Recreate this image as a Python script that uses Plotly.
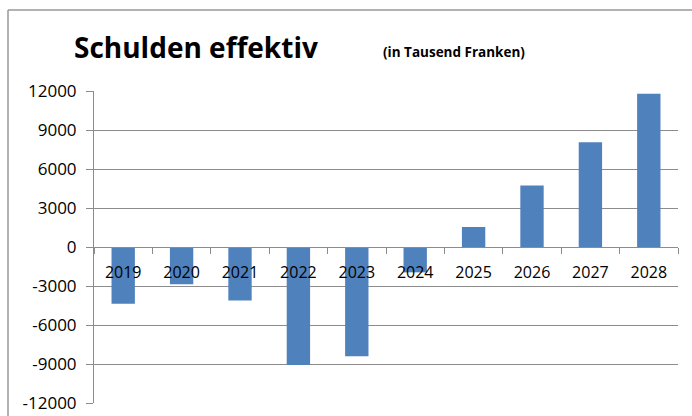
import plotly.graph_objects as go

years = ["2019", "2020", "2021", "2022", "2023", "2024", "2025", "2026", "2027", "2028"]
schulden = [-4360, -2870, -4110, -9080, -8410, -1950, 1540, 4740, 8050, 11790]
y_ticks = [-12000, -9000, -6000, -3000, 0, 3000, 6000, 9000, 12000]
y_labels = [str(v) for v in y_ticks]

W, H = 692, 416
L, R, T, B = 94, 14, 91, 13
pw, ph = W - L - R, H - T - B

fig = go.Figure(go.Bar(x=years, y=schulden, marker_color="#4F81BD",
                       marker_line_width=0))

font = "'Open Sans', sans-serif"
grid = "#8c8c8c"
fig.update_layout(
    width=W, height=H,
    margin=dict(l=L, r=R, t=T, b=B, autoexpand=False),
    paper_bgcolor="white", plot_bgcolor="white",
    bargap=0.6, showlegend=False,
    font=dict(family=font, color="#000000"),
)
fig.update_yaxes(range=[-12000, 12000], tickvals=y_ticks, ticktext=y_labels,
                 tickfont=dict(size=17), showgrid=True, gridcolor=grid,
                 gridwidth=1, zeroline=False, showline=True, linecolor=grid,
                 ticks="outside", ticklen=7, tickcolor=grid, ticklabelstandoff=6,
                 automargin=False)
fig.update_xaxes(type="category", anchor="free", position=0.5,
                 showline=True, linecolor=grid, ticks="outside",
                 tickson="boundaries", ticklen=6, tickcolor=grid,
                 showgrid=False, tickfont=dict(size=16), ticklabelstandoff=11,
                 automargin=False)

# outer border (top & left)
yb = 1 + (T - 10) / ph
xb = (8 - L) / pw
fig.add_shape(type="line", xref="paper", yref="paper",
              x0=xb, x1=(W - L) / pw, y0=yb, y1=yb,
              line=dict(color="#999999", width=1.5))
fig.add_shape(type="line", xref="paper", yref="paper",
              x0=xb, x1=xb, y0=yb, y1=-B / ph,
              line=dict(color="#999999", width=1.5))

fig.add_annotation(text="<b>Schulden effektiv</b>", xref="paper", yref="paper",
                   x=(72 - L) / pw, y=1 + (T - 47) / ph, xanchor="left", yanchor="middle",
                   showarrow=False, font=dict(size=28, family=font))
fig.add_annotation(text="<b>(in Tausend Franken)</b>", xref="paper", yref="paper",
                   x=(381 - L) / pw, y=1 + (T - 52) / ph, xanchor="left", yanchor="middle",
                   showarrow=False, font=dict(size=13.5, family=font))

fig.write_html("out.html", config={"displayModeBar": False},
               post_script="document.body.style.margin='0';document.body.style.padding='0';")
